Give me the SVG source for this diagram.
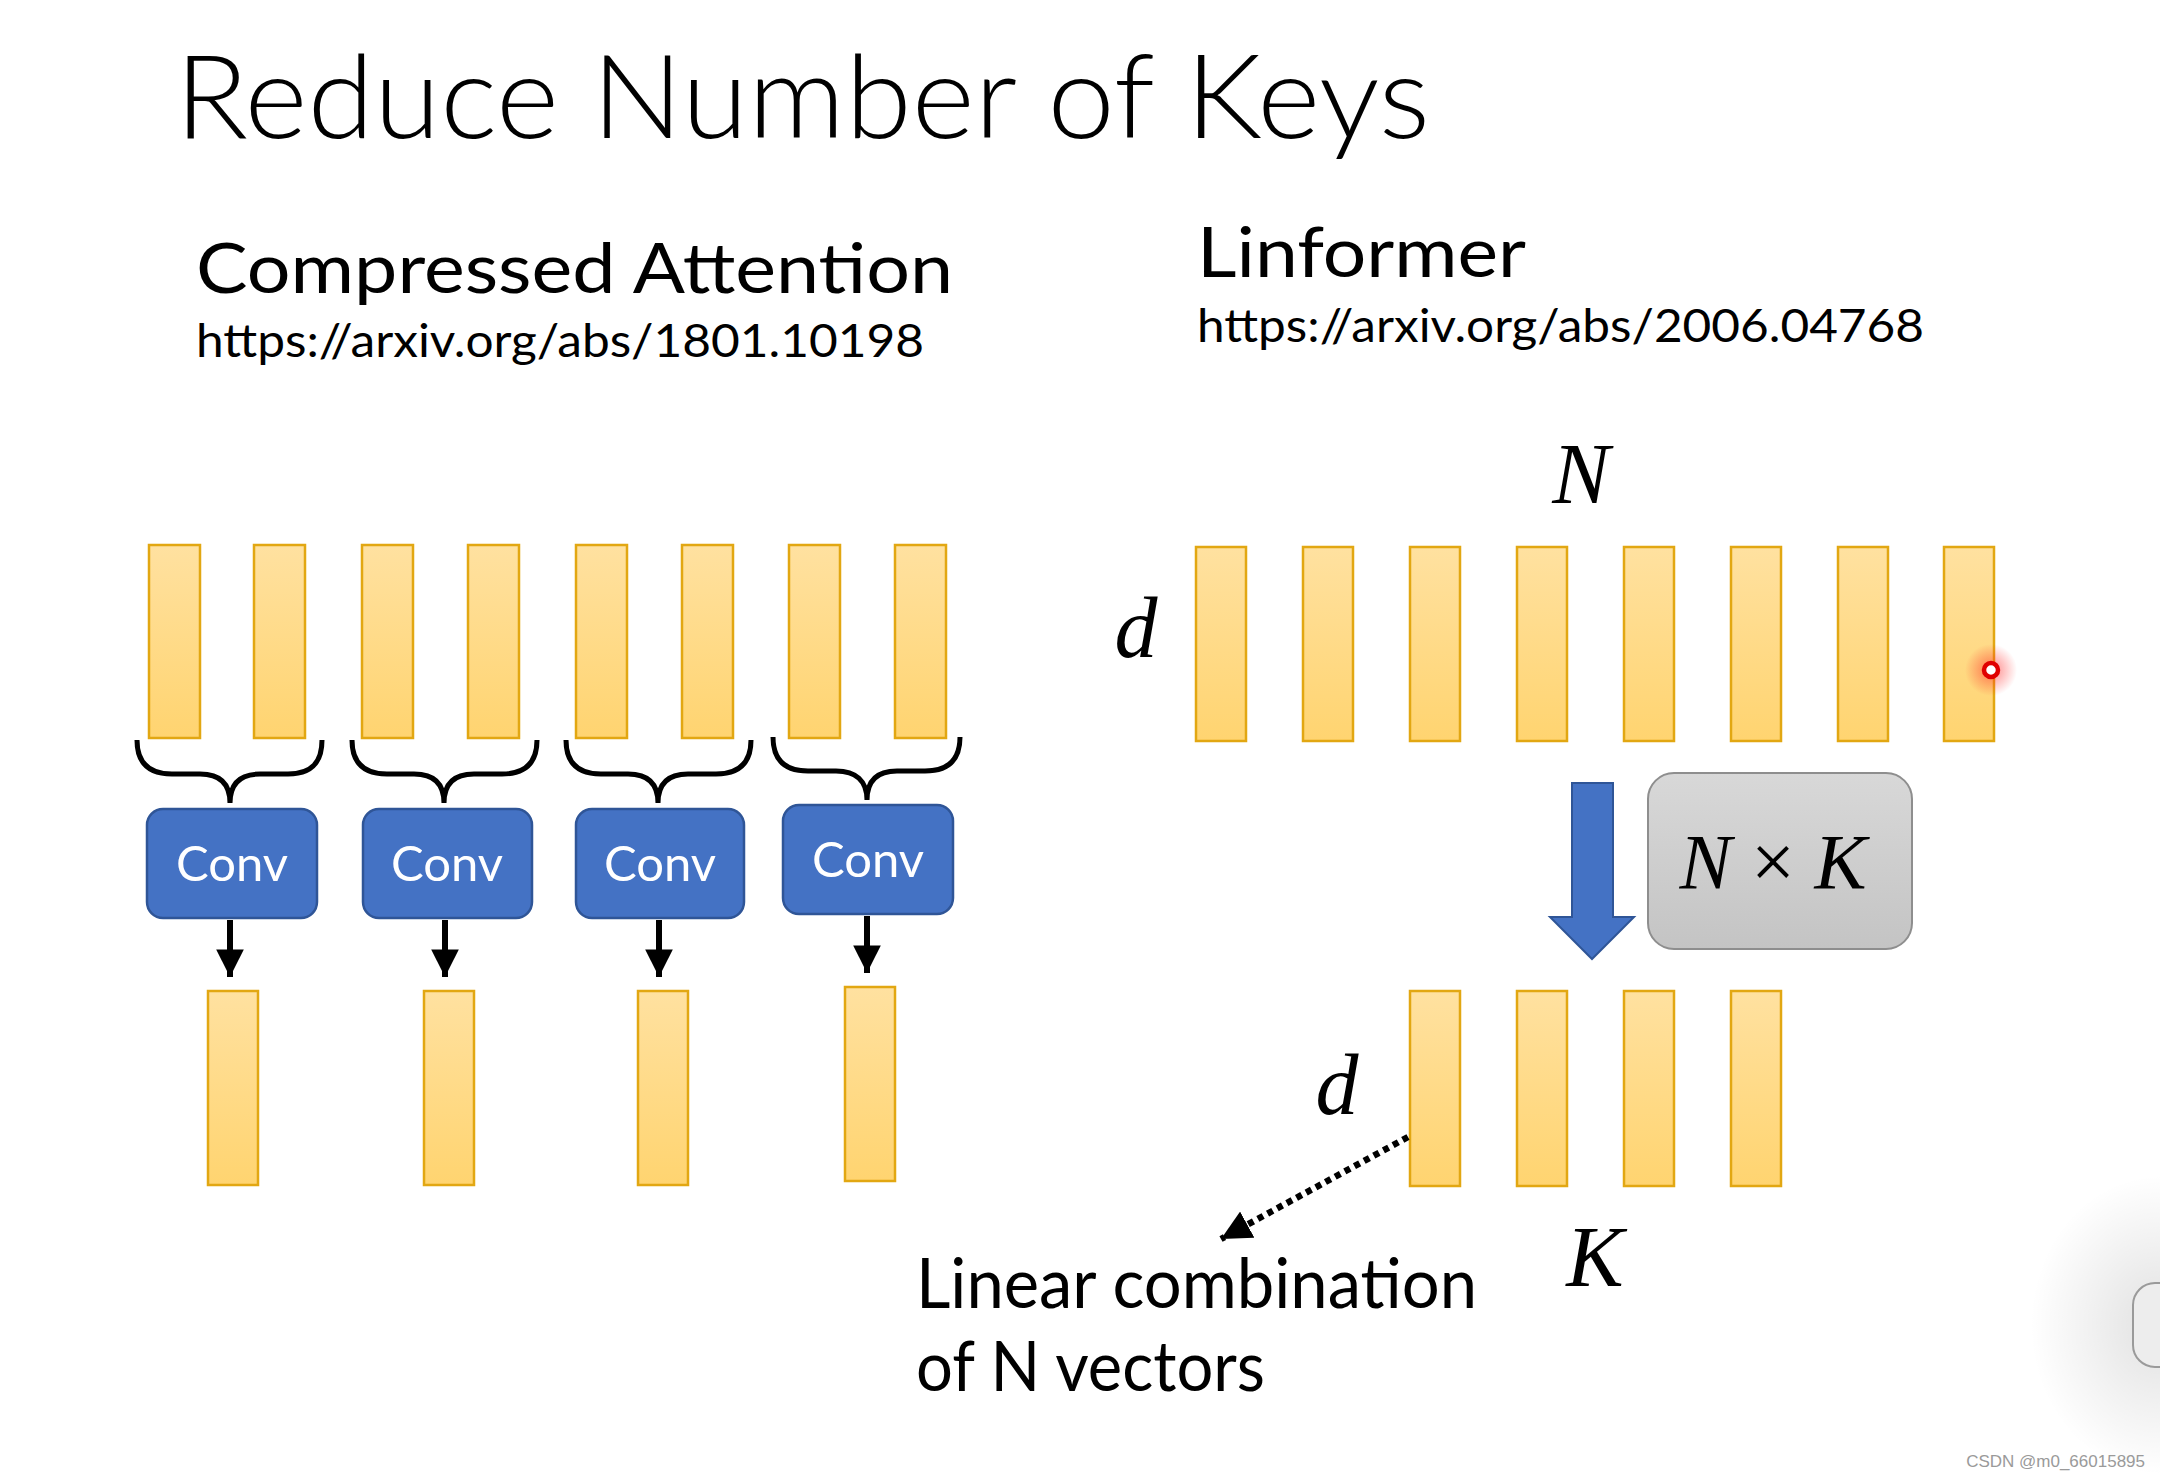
<svg xmlns="http://www.w3.org/2000/svg" width="2160" height="1479" viewBox="0 0 2160 1479">
<defs>
<linearGradient id="gold" x1="0" y1="0" x2="0" y2="1">
<stop offset="0" stop-color="#FFE1A0"/>
<stop offset="1" stop-color="#FFD470"/>
</linearGradient>
<linearGradient id="gray" x1="0" y1="0" x2="0" y2="1">
<stop offset="0" stop-color="#D8D8D8"/>
<stop offset="1" stop-color="#C4C4C4"/>
</linearGradient>
<radialGradient id="glow">
<stop offset="0" stop-color="#FF2020" stop-opacity="0.55"/>
<stop offset="1" stop-color="#FF2020" stop-opacity="0"/>
</radialGradient>
<radialGradient id="shadow" cx="0.5" cy="0.5" r="0.5">
<stop offset="0" stop-color="#000" stop-opacity="0.12"/>
<stop offset="1" stop-color="#000" stop-opacity="0"/>
</radialGradient>
<marker id="ah" viewBox="0 0 10 10" refX="10" refY="5" markerWidth="4.6" markerHeight="4.6" orient="auto" markerUnits="strokeWidth">
<path d="M0,0 L10,5 L0,10 z" fill="#000"/>
</marker>
<marker id="ahd" viewBox="0 0 10 10" refX="10" refY="5" markerWidth="4.6" markerHeight="4.6" orient="auto" markerUnits="strokeWidth">
<path d="M0,0 L10,5 L0,10 z" fill="#000"/>
</marker>
</defs>
<style>
.sans{font-family:Lato,"Open Sans","Liberation Sans",sans-serif;fill:#000}
.title{font-weight:300}
.bar{fill:url(#gold);stroke:#E2A712;stroke-width:2.5}
.conv{fill:#4472C4;stroke:#2F5597;stroke-width:2.5}
.convt{font-family:Lato,"Open Sans","Liberation Sans",sans-serif;font-size:49px;fill:#fff;text-anchor:middle}
.math{font-family:"Liberation Serif","DejaVu Serif",serif;font-style:italic;fill:#000;text-anchor:middle}
.brace{fill:none;stroke:#000;stroke-width:5}
.arr{stroke:#000;stroke-width:6;fill:none}
</style>
<rect width="2160" height="1479" fill="#fff"/>

<g id="texts">
<text class="sans title" x="175" y="138" font-size="116" textLength="1255" lengthAdjust="spacingAndGlyphs">Reduce Number of Keys</text>
<text class="sans" x="196" y="293" font-size="70" textLength="757" lengthAdjust="spacingAndGlyphs">Compressed Attention</text>
<text class="sans" x="196" y="357" font-size="46" textLength="728" lengthAdjust="spacingAndGlyphs">https://arxiv.org/abs/1801.10198</text>
<text class="sans" x="1197" y="277" font-size="70" textLength="329" lengthAdjust="spacingAndGlyphs">Linformer</text>
<text class="sans" x="1197" y="342" font-size="46" textLength="727" lengthAdjust="spacingAndGlyphs">https://arxiv.org/abs/2006.04768</text>
<text class="sans" x="916" y="1308" font-size="70" textLength="561" lengthAdjust="spacingAndGlyphs">Linear combination</text>
<text class="sans" x="916" y="1391" font-size="70" textLength="349" lengthAdjust="spacingAndGlyphs">of N vectors</text>
<text class="math" x="1581" y="503" font-size="86">N</text>
<text class="math" x="1136" y="657" font-size="86">d</text>
<text class="math" x="1337" y="1114" font-size="86">d</text>
<text class="math" x="1595" y="1286" font-size="86">K</text>
</g>

<g id="left-inputs">
<rect class="bar" x="149" y="545" width="51" height="193"/>
<rect class="bar" x="254" y="545" width="51" height="193"/>
<rect class="bar" x="362" y="545" width="51" height="193"/>
<rect class="bar" x="468" y="545" width="51" height="193"/>
<rect class="bar" x="576" y="545" width="51" height="193"/>
<rect class="bar" x="682" y="545" width="51" height="193"/>
<rect class="bar" x="789" y="545" width="51" height="193"/>
<rect class="bar" x="895" y="545" width="51" height="193"/>
</g>

<g id="conv1"><rect class="conv" x="147" y="809" width="170" height="109" rx="16"/><text class="convt" x="232" y="881">Conv</text></g>
<g id="conv2"><rect class="conv" x="363" y="809" width="169" height="109" rx="16"/><text class="convt" x="447" y="881">Conv</text></g>
<g id="conv3"><rect class="conv" x="576" y="809" width="168" height="109" rx="16"/><text class="convt" x="660" y="881">Conv</text></g>
<g id="conv4"><rect class="conv" x="783" y="805" width="170" height="109" rx="16"/><text class="convt" x="868" y="877">Conv</text></g>

<g id="left-outputs">
<rect class="bar" x="208" y="991" width="50" height="194"/>
<rect class="bar" x="424" y="991" width="50" height="194"/>
<rect class="bar" x="638" y="991" width="50" height="194"/>
<rect class="bar" x="845" y="987" width="50" height="194"/>
</g>

<g id="right-inputs">
<rect class="bar" x="1196" y="547" width="50" height="194"/>
<rect class="bar" x="1303" y="547" width="50" height="194"/>
<rect class="bar" x="1410" y="547" width="50" height="194"/>
<rect class="bar" x="1517" y="547" width="50" height="194"/>
<rect class="bar" x="1624" y="547" width="50" height="194"/>
<rect class="bar" x="1731" y="547" width="50" height="194"/>
<rect class="bar" x="1838" y="547" width="50" height="194"/>
<rect class="bar" x="1944" y="547" width="50" height="194"/>
</g>

<g id="matrix">
<rect x="1648" y="773" width="264" height="176" rx="26" fill="url(#gray)" stroke="#8E8E8E" stroke-width="2"/>
<text class="math" x="1773" y="888" font-size="78">N<tspan font-style="normal"> × </tspan>K</text>
</g>

<g id="right-outputs">
<rect class="bar" x="1410" y="991" width="50" height="195"/>
<rect class="bar" x="1517" y="991" width="50" height="195"/>
<rect class="bar" x="1624" y="991" width="50" height="195"/>
<rect class="bar" x="1731" y="991" width="50" height="195"/>
</g>

<g id="connectors">
<path class="brace" d="M137,740 C137,762 148,774 172,774 L200,774 C220,774 230,784 230,803 C230,784 240,774 260,774 L288,774 C312,774 322,762 322,740"/>
<path class="brace" d="M352,740 C352,762 363,774 387,774 L414,774 C434,774 444,784 444,803 C444,784 454,774 474,774 L502,774 C526,774 537,762 537,740"/>
<path class="brace" d="M566,740 C566,762 577,774 601,774 L628,774 C648,774 658,784 658,803 C658,784 668,774 688,774 L716,774 C740,774 751,762 751,740"/>
<path class="brace" d="M773,737 C773,759 784,771 808,771 L836,771 C856,771 867,781 867,800 C867,781 877,771 897,771 L925,771 C949,771 960,759 960,737"/>
<line class="arr" x1="230" y1="920" x2="230" y2="977" marker-end="url(#ah)"/>
<line class="arr" x1="445" y1="920" x2="445" y2="977" marker-end="url(#ah)"/>
<line class="arr" x1="659" y1="920" x2="659" y2="977" marker-end="url(#ah)"/>
<line class="arr" x1="867" y1="916" x2="867" y2="973" marker-end="url(#ah)"/>
<polygon points="1572,783 1613,783 1613,917 1634,917 1592,959 1550,917 1572,917" fill="#4472C4" stroke="#2F5597" stroke-width="2"/>
<line x1="1408" y1="1137" x2="1221" y2="1239" stroke="#000" stroke-width="6.5" stroke-dasharray="6 5" marker-end="url(#ahd)"/>
</g>

<g id="pointer">
<circle cx="1991" cy="670" r="26" fill="url(#glow)"/>
<circle cx="1991" cy="670" r="7" fill="#fff" stroke="#E00000" stroke-width="4.5"/>
</g>

<g id="edge-widget">
<ellipse cx="2160" cy="1325" rx="130" ry="150" fill="url(#shadow)"/>
<rect x="2133" y="1283" width="60" height="84" rx="22" fill="#EDEDED" stroke="#9A9A9A" stroke-width="2"/>
</g>

<text x="2145" y="1467" font-family="'Liberation Sans',Arial,sans-serif" font-size="17" fill="#9A9A9A" text-anchor="end">CSDN @m0_66015895</text>
</svg>
